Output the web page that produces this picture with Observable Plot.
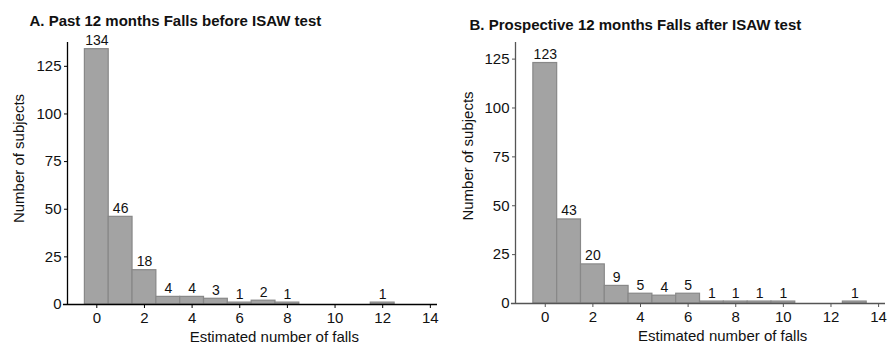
<!DOCTYPE html>
<html>
<head>
<meta charset="utf-8">
<script src="https://cdn.jsdelivr.net/npm/d3@7"></script>
<script src="https://cdn.jsdelivr.net/npm/@observablehq/plot@0.6"></script>
<style>
  body { margin: 0; background: white; }
  #wrap { display: flex; width: 896px; height: 345px; }
</style>
</head>
<body>
<div id="wrap"><div id="a"></div><div id="b"></div></div>
<script>
const titleA = "A. Past 12 months Falls before ISAW test";
const titleB = "B. Prospective 12 months Falls after ISAW test";
const fallsA = [0, 1, 2, 3, 4, 5, 6, 7, 8, 12];
const countsA = [134, 46, 18, 4, 4, 3, 1, 2, 1, 1];
const fallsB = [0, 1, 2, 3, 4, 5, 6, 7, 8, 9, 10, 13];
const countsB = [123, 43, 20, 9, 5, 4, 5, 1, 1, 1, 1, 1];
const xTicks = [0, 2, 4, 6, 8, 10, 12, 14];
const yTicks = [0, 25, 50, 75, 100, 125];
const xLabel = "Estimated number of falls";
const yLabel = "Number of subjects";

function panel(o) {
  const data = o.falls.map((f, i) => ({f, n: o.counts[i]}));
  return Plot.plot({
    width: o.width, height: 345,
    marginLeft: o.marginLeft, marginRight: o.marginRight,
    marginTop: o.marginTop, marginBottom: o.marginBottom,
    style: {fontFamily: "'Liberation Sans', Arial, sans-serif", fontSize: "15px", background: "white", color: "#111", overflow: "visible"},
    x: {domain: o.xDomain},
    y: {domain: [0, o.yMax]},
    marks: [
      Plot.rectY(data, {x1: d => d.f - 0.5, x2: d => d.f + 0.5, y: "n", fill: "#a3a3a3", stroke: "#888", strokeWidth: 1.2}),
      Plot.ruleY([0], {x1: o.xDomain[0] - 0.17, x2: o.xDomain[1], stroke: o.axisColor, strokeWidth: 1.3}),
      Plot.ruleX([o.xDomain[0]], {y1: 0, y2: o.yMax, stroke: o.axisColor, strokeWidth: 1.3}),
      Plot.axisX({ticks: xTicks, tickSize: 4, tickPadding: 4, label: null, stroke: o.axisColor, fontSize: 15}),
      Plot.axisY({ticks: yTicks, tickSize: 3, tickPadding: 3, label: null, stroke: o.axisColor, fontSize: 15}),
      Plot.text(data, {x: "f", y: "n", text: d => String(d.n), lineAnchor: "bottom", dy: -4, fontSize: 14}),
      Plot.text([o.title], {frameAnchor: "top-left", dx: o.titleDx, dy: o.titleDy, text: d => d, fontWeight: "bold", fontSize: 15, textAnchor: "start", lineAnchor: "middle"}),
      Plot.text([yLabel], {frameAnchor: "left", rotate: -90, dx: o.yLabelDx, dy: o.yLabelDy, text: d => d, fontSize: 15, textAnchor: "middle", lineAnchor: "middle"}),
      Plot.text([xLabel], {x: [7.45], frameAnchor: "bottom", dy: 33, text: d => d, fontSize: 15, textAnchor: "middle", lineAnchor: "middle"})
    ]
  });
}

document.getElementById("a").appendChild(panel({
  title: titleA, falls: fallsA, counts: countsA,
  width: 446, marginLeft: 67, marginRight: 9, marginTop: 42, marginBottom: 41,
  xDomain: [-1.23, 14.3], yMax: 137.5, titleDx: -38, titleDy: -21, yLabelDx: -48, yLabelDy: -15, axisColor: "#000"
}));
document.getElementById("b").appendChild(panel({
  title: titleB, falls: fallsB, counts: countsB,
  width: 450, marginLeft: 69, marginRight: 11, marginTop: 42, marginBottom: 42,
  xDomain: [-1.25, 14.29], yMax: 133.5, titleDx: -46, titleDy: -17, yLabelDx: -47, yLabelDy: -17, axisColor: "#555"
}));
</script>
</body>
</html>
